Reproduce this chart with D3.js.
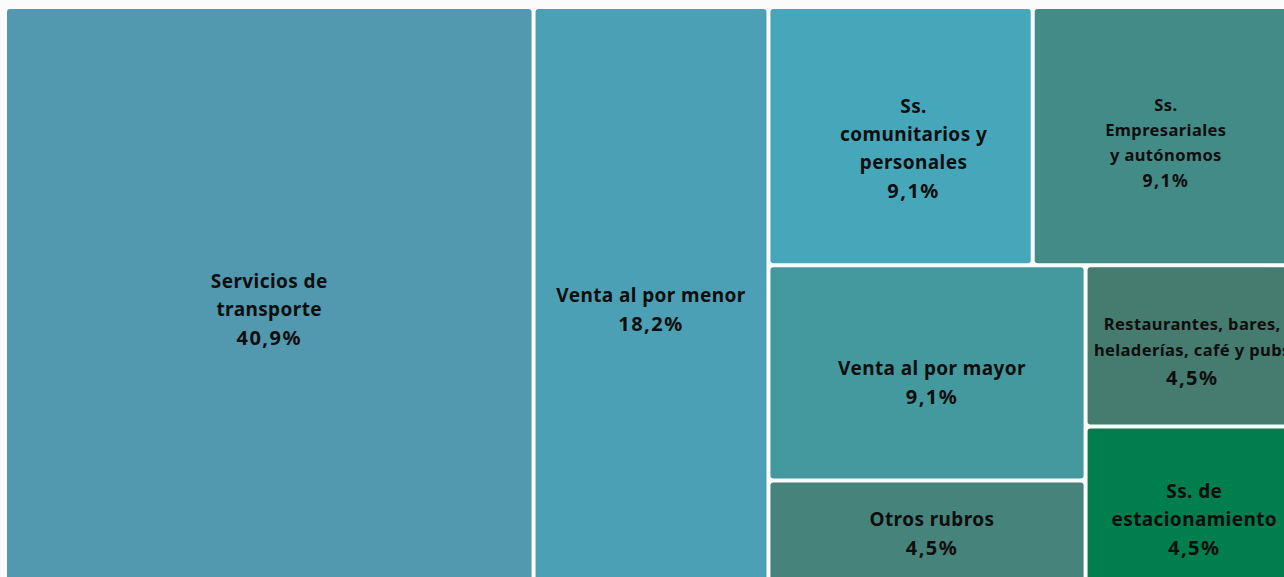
<!DOCTYPE html>
<html>
<head>
<meta charset="utf-8">
<script src="https://cdn.jsdelivr.net/npm/d3@7"></script>
<style>
  html, body { margin: 0; padding: 0; background: #fbfbfb; overflow: hidden; }
  svg { display: block; }
</style>
</head>
<body>
<svg id="chart" width="1284" height="577"></svg>
<script>
// rubros y su peso (cantidad de casos, total 22)
const categories = [
  "Servicios de transporte",
  "Venta al por menor",
  "Ss. comunitarios y personales",
  "Ss. Empresariales y autónomos",
  "Venta al por mayor",
  "Otros rubros",
  "Restaurantes, bares, heladerías, café y pubs",
  "Ss. de estacionamiento"
];
const counts = [9, 4, 2, 2, 2, 1, 1, 1];
const pctLabels = ["40,9%", "18,2%", "9,1%", "9,1%", "9,1%", "4,5%", "4,5%", "4,5%"];
const labelLines = [
  ["Servicios de", "transporte"],
  ["Venta al por menor"],
  ["Ss.", "comunitarios y", "personales"],
  ["Ss.", "Empresariales", "y autónomos"],
  ["Venta al por mayor"],
  ["Otros rubros"],
  ["Restaurantes, bares,", "heladerías, café y pubs"],
  ["Ss. de", "estacionamiento"]
];
const colors = ["#5298ae", "#4ca0b5", "#47a7ba", "#438b86", "#44999e", "#46847b", "#467b6f", "#007e4d"];

// estilo de etiqueta por celda: [tam. nombre, tam. %, interlineado, dx, dy]
const labelStyle = [
  [19, 20, 28, 0, 12],
  [19, 20, 28, 0, 12],
  [19, 20, 28, 13, 13],
  [16.5, 17.5, 25, 1, 6.5],
  [19, 20, 28, 5, 10],
  [19, 20, 28, 5, -1],
  [16.5, 20, 26, 1, 5],
  [19, 20, 28, 3, 12]
];

const svg = d3.select("#chart");

// el treemap original se sale un poco por la derecha y por abajo
const offsetX = 7, offsetY = 9;
const treeW = 1288, treeH = 577;

const root = d3.hierarchy({
  children: categories.map((name, i) => ({ name, value: counts[i], idx: i }))
}).sum(d => d.value || 0);

d3.treemap()
  .tile(d3.treemapBinary)
  .size([treeW, treeH])
  .paddingInner(4)
  .round(false)(root);

const g = svg.append("g").attr("transform", `translate(${offsetX},${offsetY})`);

const cell = g.selectAll("g.cell")
  .data(root.leaves())
  .enter()
  .append("g")
  .attr("class", "cell");

cell.append("rect")
  .attr("x", d => d.x0)
  .attr("y", d => d.y0)
  .attr("width", d => d.x1 - d.x0)
  .attr("height", d => d.y1 - d.y0)
  .attr("rx", 3)
  .attr("fill", d => colors[d.data.idx]);

// etiquetas: nombre + porcentaje
cell.each(function(d) {
  const i = d.data.idx;
  const [fs, pfs, lineH, dx, dy] = labelStyle[i];
  const names = labelLines[i];

  // posiciones relativas de cada renglon
  const ys = names.map((_, k) => k * lineH);
  ys.push((names.length - 1) * lineH + lineH + (pfs - fs) * 0.6);
  const mid = (ys[0] + ys[ys.length - 1]) / 2;

  const cx = (d.x0 + d.x1) / 2 + dx;
  const cy = (d.y0 + d.y1) / 2 + dy;

  const text = d3.select(this).append("text")
    .attr("text-anchor", "middle")
    .attr("font-family", "'Noto Sans', 'Open Sans', sans-serif")
    .attr("font-weight", 700)
    .attr("fill", "#0e0e0e");

  names.concat([pctLabels[i]]).forEach((line, k) => {
    const isPct = k === names.length;
    text.append("tspan")
      .attr("x", cx)
      .attr("y", cy + ys[k] - mid)
      .attr("dy", "0.35em")
      .attr("font-size", (isPct ? pfs : fs) + "px")
      .attr("letter-spacing", isPct ? "1.5px" : "0.4px")
      .text(line);
  });
});
</script>
</body>
</html>
